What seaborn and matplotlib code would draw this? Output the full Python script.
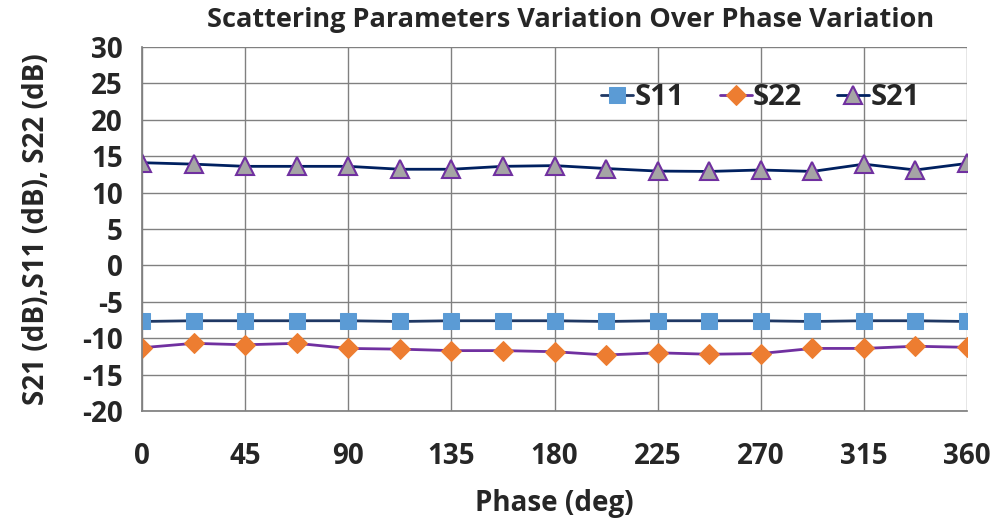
import numpy as np
import pandas as pd
import matplotlib
matplotlib.use("Agg")
import matplotlib.pyplot as plt
import seaborn as sns

phase = [0, 22.5, 45, 67.5, 90, 112.5, 135, 157.5, 180, 202.5, 225, 247.5, 270, 292.5, 315, 337.5, 360]
s11 = [-7.7, -7.6, -7.6, -7.6, -7.6, -7.7, -7.6, -7.6, -7.6, -7.7, -7.6, -7.6, -7.6, -7.7, -7.6, -7.6, -7.7]
s22 = [-11.3, -10.7, -10.9, -10.7, -11.4, -11.5, -11.7, -11.7, -11.85, -12.3, -12.0, -12.2, -12.1, -11.4, -11.4, -11.1, -11.25]
s21 = [14.1, 13.9, 13.6, 13.6, 13.6, 13.2, 13.2, 13.6, 13.7, 13.3, 12.95, 12.9, 13.1, 12.9, 13.9, 13.1, 14.0]

x_ticks = [0, 45, 90, 135, 180, 225, 270, 315, 360]
y_ticks = [-20, -15, -10, -5, 0, 5, 10, 15, 20, 25, 30]

sns.set_theme(style="white")
plt.rcParams["font.family"] = ["Open Sans", "DejaVu Sans"]
plt.rcParams["font.weight"] = "bold"
plt.rcParams["axes.unicode_minus"] = False

fig = plt.figure(figsize=(10.01, 5.21), dpi=100)
ax = fig.add_axes([0.142, 0.211, 0.824, 0.699])

series = [
    ("S11", s11, dict(marker="s", color="#1F3864", markerfacecolor="#5B9BD5",
                      markeredgecolor="#5B9BD5", markersize=11)),
    ("S22", s22, dict(marker="D", color="#7030A0", markerfacecolor="#ED7D31",
                      markeredgecolor="#ED7D31", markersize=10)),
    ("S21", s21, dict(marker="^", color="#002060", markerfacecolor="#A5A5A5",
                      markeredgecolor="#7030A0", markeredgewidth=1.5, markersize=13)),
]
for name, vals, style in series:
    sns.lineplot(x=phase, y=vals, ax=ax, label=name, linewidth=2, **style)

ax.set_xlim(0, 360)
ax.set_ylim(-20, 30)
ax.set_xticks(x_ticks)
ax.set_yticks(y_ticks)
ax.grid(True, color="#808080", linewidth=1)
for s in ["top", "right"]:
    ax.spines[s].set_visible(False)
ax.spines["left"].set_color("#808080")
ax.spines["bottom"].set_color("#808080")
ax.tick_params(axis="both", labelsize=20, length=0)
ax.tick_params(axis="x", pad=22)
ax.tick_params(axis="y", pad=14)
for lab in ax.get_xticklabels() + ax.get_yticklabels():
    lab.set_fontweight("bold")

ax.set_xlabel("Phase (deg)", fontsize=20, fontweight="bold", labelpad=13)
ax.set_ylabel("S21 (dB),S11 (dB), S22 (dB)", fontsize=20, fontweight="bold", labelpad=22)
ax.set_title("Scattering Parameters Variation Over Phase Variation", fontsize=19.5,
             fontweight="bold", pad=14, x=0.52)

leg = ax.legend(loc="center right", bbox_to_anchor=(0.975, 0.86), ncol=3, frameon=False,
                handlelength=1.1, handletextpad=0.05, columnspacing=1.2,
                prop={"weight": "bold", "size": 21})

fig.savefig("out.png", dpi=100)
